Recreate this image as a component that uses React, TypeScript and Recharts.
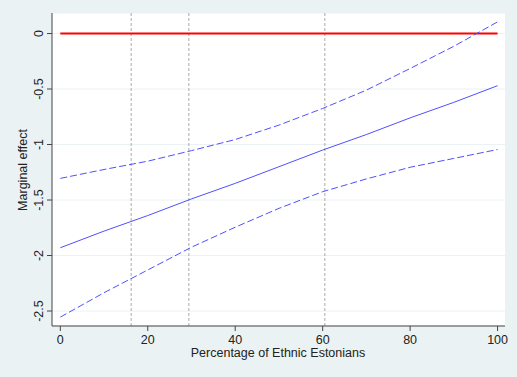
import { CartesianGrid, ComposedChart, Line, ReferenceLine, XAxis, YAxis } from 'recharts';

// Percentage of ethnic Estonians (x) and marginal effect estimates with CI
const pctEstonians = [0, 10, 20, 30, 40, 50, 60, 70, 80, 90, 100];
const effect = [-1.93, -1.78, -1.64, -1.49, -1.35, -1.2, -1.05, -0.91, -0.76, -0.62, -0.47];
const upperCI = [-1.305, -1.225, -1.15, -1.055, -0.955, -0.825, -0.675, -0.51, -0.315, -0.115, 0.105];
const lowerCI = [-2.555, -2.335, -2.13, -1.925, -1.745, -1.575, -1.425, -1.31, -1.205, -1.125, -1.045];
const zeroLine = [0, 0, 0, 0, 0, 0, 0, 0, 0, 0, 0];

// vertical markers (grey dashed)
const markers = [16.2, 29.4, 60.5];

const xTicks = [0, 20, 40, 60, 80, 100];
const yTicks = [-2.5, -2, -1.5, -1, -0.5, 0];

const data = pctEstonians.map((x, i) => ({
  x,
  effect: effect[i],
  upper: upperCI[i],
  lower: lowerCI[i],
  zero: zeroLine[i],
}));

const FONT = '"Liberation Sans", Arial, sans-serif';
const TEXT = '#222';
const BLUE = '#5050ff';
const FS = 12.5;

function YTick(props: any) {
  const { x, y, payload } = props;
  const tx = x - 2;
  return (
    <text x={tx} y={y} transform={`rotate(-90 ${tx} ${y})`} textAnchor="middle" fontSize={FS} fill={TEXT} fontFamily={FONT}>
      {String(payload.value)}
    </text>
  );
}

export default function App() {
  return (
    <div style={{ position: 'fixed', left: 0, top: 0, width: 517, height: 377, background: '#eaf2f3' }}>
      <ComposedChart
        width={517}
        height={377}
        data={data}
        margin={{ top: 13, right: 12, bottom: 0, left: 0 }}
        style={{ fontFamily: FONT }}
      >
        <CartesianGrid vertical={false} stroke="#eaf2f3" fill="#ffffff" />
        <XAxis
          dataKey="x"
          type="number"
          domain={[-1.9, 101.7]}
          ticks={xTicks}
          allowDataOverflow
          height={51}
          stroke="#444"
          tickSize={5}
          tickMargin={4}
          tick={{ fontSize: FS, fill: TEXT }}
          label={{
            content: () => (
              <text x={278} y={357} textAnchor="middle" fontSize={FS} fill={TEXT} fontFamily={FONT}>
                Percentage of Ethnic Estonians
              </text>
            ),
          }}
        />
        <YAxis
          type="number"
          domain={[-2.635, 0.185]}
          ticks={yTicks}
          allowDataOverflow
          width={52}
          stroke="#444"
          tickSize={5}
          tick={<YTick />}
          label={{
            content: () => (
              <text x={27} y={170} transform="rotate(-90 27 170)" textAnchor="middle" fontSize={FS} fill={TEXT} fontFamily={FONT}>
                Marginal effect
              </text>
            ),
          }}
        />
        {markers.map((m) => (
          <ReferenceLine key={m} x={m} stroke="#aaaaaa" strokeDasharray="3 2" />
        ))}
        <Line dataKey="zero" stroke="#ff0000" strokeWidth={2} dot={false} isAnimationActive={false} />
        <Line dataKey="upper" stroke={BLUE} strokeWidth={1} strokeDasharray="7 3" dot={false} isAnimationActive={false} />
        <Line dataKey="effect" stroke={BLUE} strokeWidth={1} dot={false} isAnimationActive={false} />
        <Line dataKey="lower" stroke={BLUE} strokeWidth={1} strokeDasharray="7 3" dot={false} isAnimationActive={false} />
      </ComposedChart>
    </div>
  );
}
